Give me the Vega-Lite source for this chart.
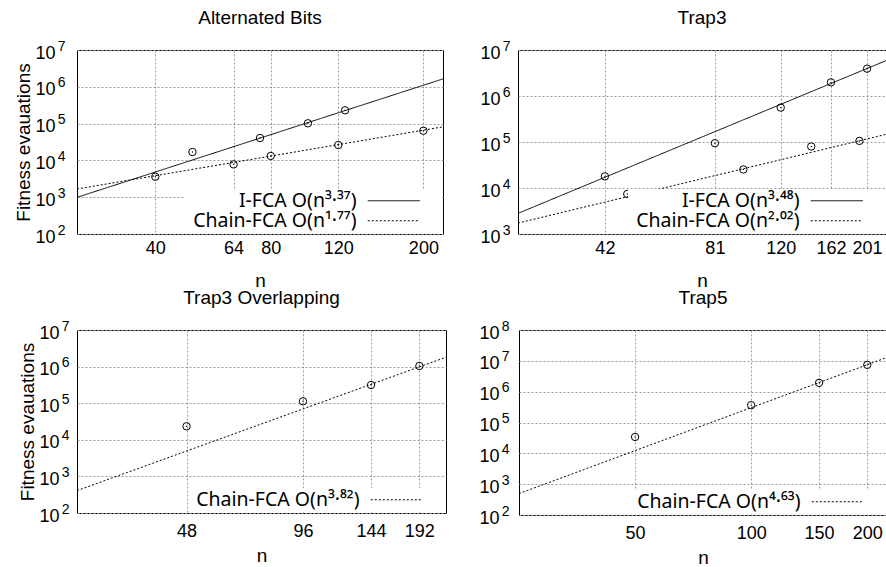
{
  "$schema": "https://vega.github.io/schema/vega-lite/v6.json",
  "padding": {"left": 14, "top": 8, "right": 0, "bottom": 0},
  "datasets": {
    "pts": [
      {"panel": "AB", "series": "I-FCA", "n": 50, "v": 16900},
      {"panel": "AB", "series": "I-FCA", "n": 75, "v": 40600},
      {"panel": "AB", "series": "I-FCA", "n": 100, "v": 102000},
      {"panel": "AB", "series": "I-FCA", "n": 125, "v": 230000},
      {"panel": "AB", "series": "Chain-FCA", "n": 40, "v": 3600},
      {"panel": "AB", "series": "Chain-FCA", "n": 64, "v": 7800},
      {"panel": "AB", "series": "Chain-FCA", "n": 80, "v": 13200},
      {"panel": "AB", "series": "Chain-FCA", "n": 120, "v": 26200},
      {"panel": "AB", "series": "Chain-FCA", "n": 200, "v": 64000},
      {"panel": "T3", "series": "I-FCA", "n": 42, "v": 17900},
      {"panel": "T3", "series": "I-FCA", "n": 81, "v": 94200},
      {"panel": "T3", "series": "I-FCA", "n": 120, "v": 560000},
      {"panel": "T3", "series": "I-FCA", "n": 162, "v": 1980000},
      {"panel": "T3", "series": "I-FCA", "n": 201, "v": 3930000},
      {"panel": "T3", "series": "Chain-FCA", "n": 48, "v": 7400},
      {"panel": "T3", "series": "Chain-FCA", "n": 96, "v": 25300},
      {"panel": "T3", "series": "Chain-FCA", "n": 144, "v": 79800},
      {"panel": "T3", "series": "Chain-FCA", "n": 192, "v": 105700},
      {"panel": "T3O", "series": "Chain-FCA", "n": 48, "v": 23400},
      {"panel": "T3O", "series": "Chain-FCA", "n": 96, "v": 112700},
      {"panel": "T3O", "series": "Chain-FCA", "n": 144, "v": 314000},
      {"panel": "T3O", "series": "Chain-FCA", "n": 192, "v": 1040000},
      {"panel": "T5", "series": "Chain-FCA", "n": 50, "v": 34000},
      {"panel": "T5", "series": "Chain-FCA", "n": 100, "v": 365000},
      {"panel": "T5", "series": "Chain-FCA", "n": 150, "v": 1930000},
      {"panel": "T5", "series": "Chain-FCA", "n": 200, "v": 7400000}
    ],
    "fits": [
      {"panel": "AB", "key": "I-FCA O(n³·³⁷)", "n": 25, "v": 990},
      {"panel": "AB", "key": "I-FCA O(n³·³⁷)", "n": 225, "v": 1640000},
      {"panel": "AB", "key": "Chain-FCA O(n¹·⁷⁷)", "n": 25, "v": 1670},
      {"panel": "AB", "key": "Chain-FCA O(n¹·⁷⁷)", "n": 225, "v": 81700},
      {"panel": "T3", "key": "I-FCA O(n³·⁴⁸)", "n": 25, "v": 2810},
      {"panel": "T3", "key": "I-FCA O(n³·⁴⁸)", "n": 225, "v": 5870000},
      {"panel": "T3", "key": "Chain-FCA O(n²·⁰²)", "n": 25, "v": 1730},
      {"panel": "T3", "key": "Chain-FCA O(n²·⁰²)", "n": 225, "v": 146600},
      {"panel": "T3O", "key": "Chain-FCA O(n³·⁸²)", "n": 25, "v": 409},
      {"panel": "T3O", "key": "Chain-FCA O(n³·⁸²)", "n": 225, "v": 1800000},
      {"panel": "T5", "key": "Chain-FCA O(n⁴·⁶³)", "n": 25, "v": 495},
      {"panel": "T5", "key": "Chain-FCA O(n⁴·⁶³)", "n": 225, "v": 12900000}
    ]
  },
  "resolve": {"scale": {"strokeDash": "independent"}, "legend": {"strokeDash": "independent"}},
  "spacing": -3,
  "vconcat": [
    {
      "spacing": 35,
      "resolve": {"scale": {"strokeDash": "independent"}, "legend": {"strokeDash": "independent"}},
      "hconcat": [
        {
          "width": 366, "height": 184,
          "title": {"text": "Alternated Bits"},
          "resolve": {"axis": {"y": "independent"}},
          "layer": [
            {
              "data": {"name": "fits"},
              "transform": [{"filter": "datum.panel === 'AB'"}],
              "mark": {"type": "line", "color": "black", "strokeWidth": 1, "clip": true},
              "encoding": {
                "x": {"field": "n", "type": "quantitative", "scale": {"type": "log", "domain": [25, 225], "nice": false}, "axis": {"values": [40, 64, 80, 120, 200], "format": "d", "title": "n", "labelPadding": 5, "titlePadding": 14}},
                "y": {"field": "v", "type": "quantitative", "scale": {"type": "log", "domain": [100, 10000000], "nice": false}, "axis": {"orient": "left", "values": [100, 1000, 10000, 100000, 1000000, 10000000], "labelExpr": "'10'", "labelPadding": 22, "labelOffset": 3, "title": "Fitness evauations"}},
                "strokeDash": {"field": "key", "type": "nominal", "scale": {"domain": ["I-FCA O(n³·³⁷)", "Chain-FCA O(n¹·⁷⁷)"], "range": [[1, 0], [2, 2]]}, "legend": {"title": " "}}
              }
            },
            {
              "data": {"name": "pts"},
              "transform": [{"filter": "datum.panel === 'AB'"}],
              "mark": {"type": "point", "shape": "circle", "filled": false, "color": "black", "size": 55, "strokeWidth": 1, "opacity": 1},
              "encoding": {
                "x": {"field": "n", "type": "quantitative"},
                "y": {"field": "v", "type": "quantitative", "axis": {"orient": "left", "values": [100, 1000, 10000, 100000, 1000000, 10000000], "labelExpr": "round(log(datum.value)/LN10)", "labelFontSize": 14, "labelPadding": 12, "labelOffset": -4, "grid": false, "title": null}}
              }
            },
            {
              "data": {"name": "pts"},
              "transform": [{"filter": "datum.panel === 'AB'"}],
              "mark": {"type": "circle", "color": "black", "size": 2, "opacity": 1},
              "encoding": {"x": {"field": "n", "type": "quantitative"}, "y": {"field": "v", "type": "quantitative", "axis": null}}
            }
          ]
        },
        {
          "width": 368, "height": 184,
          "title": {"text": "Trap3"},
          "resolve": {"axis": {"y": "independent"}},
          "layer": [
            {
              "data": {"name": "fits"},
              "transform": [{"filter": "datum.panel === 'T3'"}],
              "mark": {"type": "line", "color": "black", "strokeWidth": 1, "clip": true},
              "encoding": {
                "x": {"field": "n", "type": "quantitative", "scale": {"type": "log", "domain": [25, 225], "nice": false}, "axis": {"values": [42, 81, 120, 162, 201], "format": "d", "title": "n", "labelPadding": 5, "titlePadding": 14}},
                "y": {"field": "v", "type": "quantitative", "scale": {"type": "log", "domain": [1000, 10000000], "nice": false}, "axis": {"orient": "left", "values": [1000, 10000, 100000, 1000000, 10000000], "labelExpr": "'10'", "labelPadding": 18, "labelOffset": 3, "title": null}},
                "strokeDash": {"field": "key", "type": "nominal", "scale": {"domain": ["I-FCA O(n³·⁴⁸)", "Chain-FCA O(n²·⁰²)"], "range": [[1, 0], [2, 2]]}, "legend": {"title": " "}}
              }
            },
            {
              "data": {"name": "pts"},
              "transform": [{"filter": "datum.panel === 'T3'"}],
              "mark": {"type": "point", "shape": "circle", "filled": false, "color": "black", "size": 55, "strokeWidth": 1, "opacity": 1},
              "encoding": {
                "x": {"field": "n", "type": "quantitative"},
                "y": {"field": "v", "type": "quantitative", "axis": {"orient": "left", "values": [1000, 10000, 100000, 1000000, 10000000], "labelExpr": "round(log(datum.value)/LN10)", "labelFontSize": 14, "labelPadding": 8, "labelOffset": -4, "grid": false, "title": null}}
              }
            },
            {
              "data": {"name": "pts"},
              "transform": [{"filter": "datum.panel === 'T3'"}],
              "mark": {"type": "circle", "color": "black", "size": 2, "opacity": 1},
              "encoding": {"x": {"field": "n", "type": "quantitative"}, "y": {"field": "v", "type": "quantitative", "axis": null}}
            }
          ]
        }
      ]
    },
    {
      "spacing": 31,
      "resolve": {"scale": {"strokeDash": "independent"}, "legend": {"strokeDash": "independent"}},
      "hconcat": [
        {
          "width": 369, "height": 183,
          "title": {"text": "Trap3 Overlapping"},
          "resolve": {"axis": {"y": "independent"}},
          "layer": [
            {
              "data": {"name": "fits"},
              "transform": [{"filter": "datum.panel === 'T3O'"}],
              "mark": {"type": "line", "color": "black", "strokeWidth": 1, "clip": true},
              "encoding": {
                "x": {"field": "n", "type": "quantitative", "scale": {"type": "log", "domain": [25, 225], "nice": false}, "axis": {"values": [48, 96, 144, 192], "format": "d", "title": "n", "labelPadding": 9, "titlePadding": 6}},
                "y": {"field": "v", "type": "quantitative", "scale": {"type": "log", "domain": [100, 10000000], "nice": false}, "axis": {"orient": "left", "values": [100, 1000, 10000, 100000, 1000000, 10000000], "labelExpr": "'10'", "labelPadding": 18, "labelOffset": 3, "title": "Fitness evauations"}},
                "strokeDash": {"field": "key", "type": "nominal", "scale": {"domain": ["Chain-FCA O(n³·⁸²)"], "range": [[2, 2]]}, "legend": {"title": " "}}
              }
            },
            {
              "data": {"name": "pts"},
              "transform": [{"filter": "datum.panel === 'T3O'"}],
              "mark": {"type": "point", "shape": "circle", "filled": false, "color": "black", "size": 55, "strokeWidth": 1, "opacity": 1},
              "encoding": {
                "x": {"field": "n", "type": "quantitative"},
                "y": {"field": "v", "type": "quantitative", "axis": {"orient": "left", "values": [100, 1000, 10000, 100000, 1000000, 10000000], "labelExpr": "round(log(datum.value)/LN10)", "labelFontSize": 14, "labelPadding": 8, "labelOffset": -4, "grid": false, "title": null}}
              }
            },
            {
              "data": {"name": "pts"},
              "transform": [{"filter": "datum.panel === 'T3O'"}],
              "mark": {"type": "circle", "color": "black", "size": 2, "opacity": 1},
              "encoding": {"x": {"field": "n", "type": "quantitative"}, "y": {"field": "v", "type": "quantitative", "axis": null}}
            }
          ]
        },
        {
          "width": 368, "height": 185,
          "title": {"text": "Trap5"},
          "resolve": {"axis": {"y": "independent"}},
          "layer": [
            {
              "data": {"name": "fits"},
              "transform": [{"filter": "datum.panel === 'T5'"}],
              "mark": {"type": "line", "color": "black", "strokeWidth": 1, "clip": true},
              "encoding": {
                "x": {"field": "n", "type": "quantitative", "scale": {"type": "log", "domain": [25, 225], "nice": false}, "axis": {"values": [50, 100, 150, 200], "format": "d", "title": "n", "labelPadding": 9, "titlePadding": 6}},
                "y": {"field": "v", "type": "quantitative", "scale": {"type": "log", "domain": [100, 100000000], "nice": false}, "axis": {"orient": "left", "values": [100, 1000, 10000, 100000, 1000000, 10000000, 100000000], "labelExpr": "'10'", "labelPadding": 20, "labelOffset": 3, "title": null}},
                "strokeDash": {"field": "key", "type": "nominal", "scale": {"domain": ["Chain-FCA O(n⁴·⁶³)"], "range": [[2, 2]]}, "legend": {"title": " "}}
              }
            },
            {
              "data": {"name": "pts"},
              "transform": [{"filter": "datum.panel === 'T5'"}],
              "mark": {"type": "point", "shape": "circle", "filled": false, "color": "black", "size": 55, "strokeWidth": 1, "opacity": 1},
              "encoding": {
                "x": {"field": "n", "type": "quantitative"},
                "y": {"field": "v", "type": "quantitative", "axis": {"orient": "left", "values": [100, 1000, 10000, 100000, 1000000, 10000000, 100000000], "labelExpr": "round(log(datum.value)/LN10)", "labelFontSize": 14, "labelPadding": 10, "labelOffset": -4, "grid": false, "title": null}}
              }
            },
            {
              "data": {"name": "pts"},
              "transform": [{"filter": "datum.panel === 'T5'"}],
              "mark": {"type": "circle", "color": "black", "size": 2, "opacity": 1},
              "encoding": {"x": {"field": "n", "type": "quantitative"}, "y": {"field": "v", "type": "quantitative", "axis": null}}
            }
          ]
        }
      ]
    }
  ],
  "config": {
    "font": "Liberation Sans",
    "view": {"stroke": "black", "strokeWidth": 1},
    "title": {"fontSize": 19, "fontWeight": "normal", "color": "black", "offset": 11, "anchor": "middle"},
    "axis": {
      "domain": false, "ticks": false, "grid": true,
      "gridColor": "#9a9a9a", "gridDash": [2, 2], "gridWidth": 1, "gridOpacity": 1,
      "labelFontSize": 18, "labelColor": "black", "labelPadding": 10,
      "titleFontSize": 19, "titleFontWeight": "normal", "titleColor": "black"
    },
    "axisX": {"labelFlush": false, "labelOverlap": false},
    "axisY": {"titlePadding": 1, "labelOverlap": false},
    "legend": {
      "orient": "bottom-right", "offset": 1, "padding": 2, "fillColor": "white",
      "symbolType": "M34.2,0H44.6", "symbolStrokeColor": "black", "symbolFillColor": "transparent", "symbolStrokeWidth": 1, "symbolSize": 100,
      "labelAlign": "right", "labelOffset": 150, "labelFont": "Noto Sans",
      "labelFontSize": 19.5, "labelColor": "black", "labelLimit": 400,
      "rowPadding": -2,
      "titleOrient": "right", "titlePadding": 18, "titleFontSize": 1
    }
  }
}
